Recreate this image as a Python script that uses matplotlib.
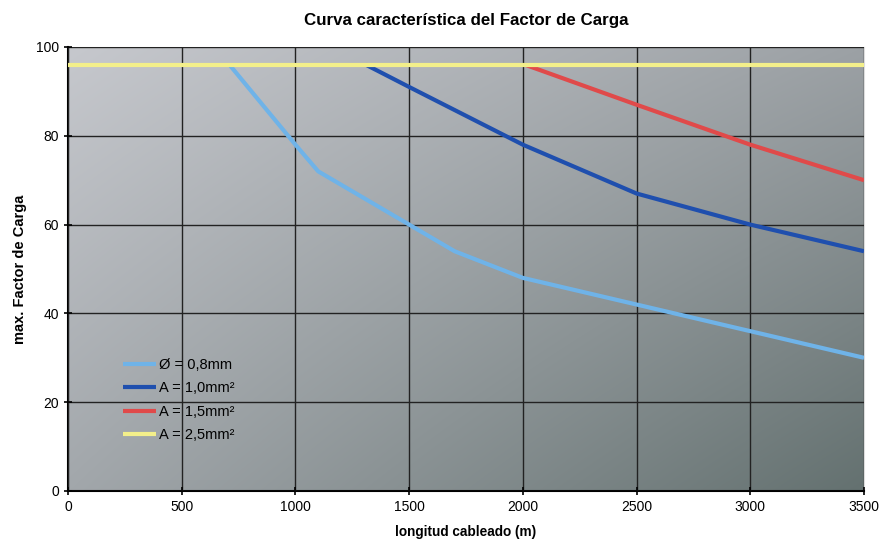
import numpy as np
import matplotlib
matplotlib.use("Agg")
import matplotlib.pyplot as plt
from matplotlib.colors import to_rgb

plt.rcParams['font.family'] = ['Liberation Sans', 'DejaVu Sans']

x_08 = [710, 1000, 1100, 1500, 1700, 2000, 2500, 3000, 3500]
y_08 = [96, 78, 72, 60, 54, 48, 42, 36, 30]
x_10 = [1310, 1500, 2000, 2500, 3000, 3500]
y_10 = [96, 91, 78, 67, 60, 54]
x_15 = [2010, 2500, 3000, 3500]
y_15 = [96, 87, 78, 70]
x_25 = [0, 3500]
y_25 = [96, 96]

labels = ["Ø = 0,8mm", "A = 1,0mm²", "A = 1,5mm²", "A = 2,5mm²"]
colors = ["#6fb3e8", "#1f4fae", "#e04a4a", "#f3ef8a"]

fig = plt.figure(figsize=(8.95, 5.40), dpi=100)
ax = fig.add_axes([68/895, 1-491/540, (864-68)/895, (491-47)/540])

# gradient background (bilinear between corner colours)
n = 200
u = np.linspace(0, 1, n)[None, :, None]      # left -> right
v = np.linspace(0, 1, n)[:, None, None]      # top -> bottom
tl = np.array(to_rgb("#c6c8cd")); tr = np.array(to_rgb("#9ca1a5"))
bl = np.array(to_rgb("#a2a7ab")); br = np.array(to_rgb("#647170"))
img = (1-u)*(1-v)*tl + u*(1-v)*tr + (1-u)*v*bl + u*v*br
ax.imshow(img, extent=[0, 1, 0, 1], transform=ax.transAxes, origin='upper',
          aspect='auto', zorder=0, interpolation='bilinear')

ax.set_xlim(0, 3500)
ax.set_ylim(0, 100)
ax.set_xticks(np.arange(0, 3501, 500))
ax.set_yticks(np.arange(0, 101, 20))
ax.grid(True, color="#222222", linewidth=1.0, zorder=1)
ax.set_axisbelow(False)

for xs, ys, c, lab in [(x_08, y_08, colors[0], labels[0]), (x_10, y_10, colors[1], labels[1]),
                       (x_15, y_15, colors[2], labels[2]), (x_25, y_25, colors[3], labels[3])]:
    ax.plot(xs, ys, color=c, linewidth=3, label=lab, zorder=3, solid_capstyle='butt')

for s in ['top', 'right']:
    ax.spines[s].set_color('#dddddd')
    ax.spines[s].set_linewidth(0.8)
ax.spines['left'].set_linewidth(1.5)
ax.spines['bottom'].set_linewidth(1.5)
ax.tick_params(axis='both', direction='inout', length=6, width=1.2, labelsize=10, colors='black')

leg = ax.legend(loc='lower left', bbox_to_anchor=(0.052, 0.08), frameon=False, fontsize=10.5,
                handlelength=2.3, handletextpad=0.2, labelspacing=0.65)

ax.set_title("Curva característica del Factor de Carga", fontsize=12.2, fontweight='bold', pad=16)
ax.set_xlabel("longitud cableado (m)", fontsize=9.8, fontweight='bold')
ax.xaxis.set_label_coords(0.5, -0.077)
ax.set_ylabel("max. Factor de Carga", fontsize=10.5, fontweight='bold')
ax.yaxis.set_label_coords(-0.051, 0.5)

fig.savefig("out.png", dpi=100)
